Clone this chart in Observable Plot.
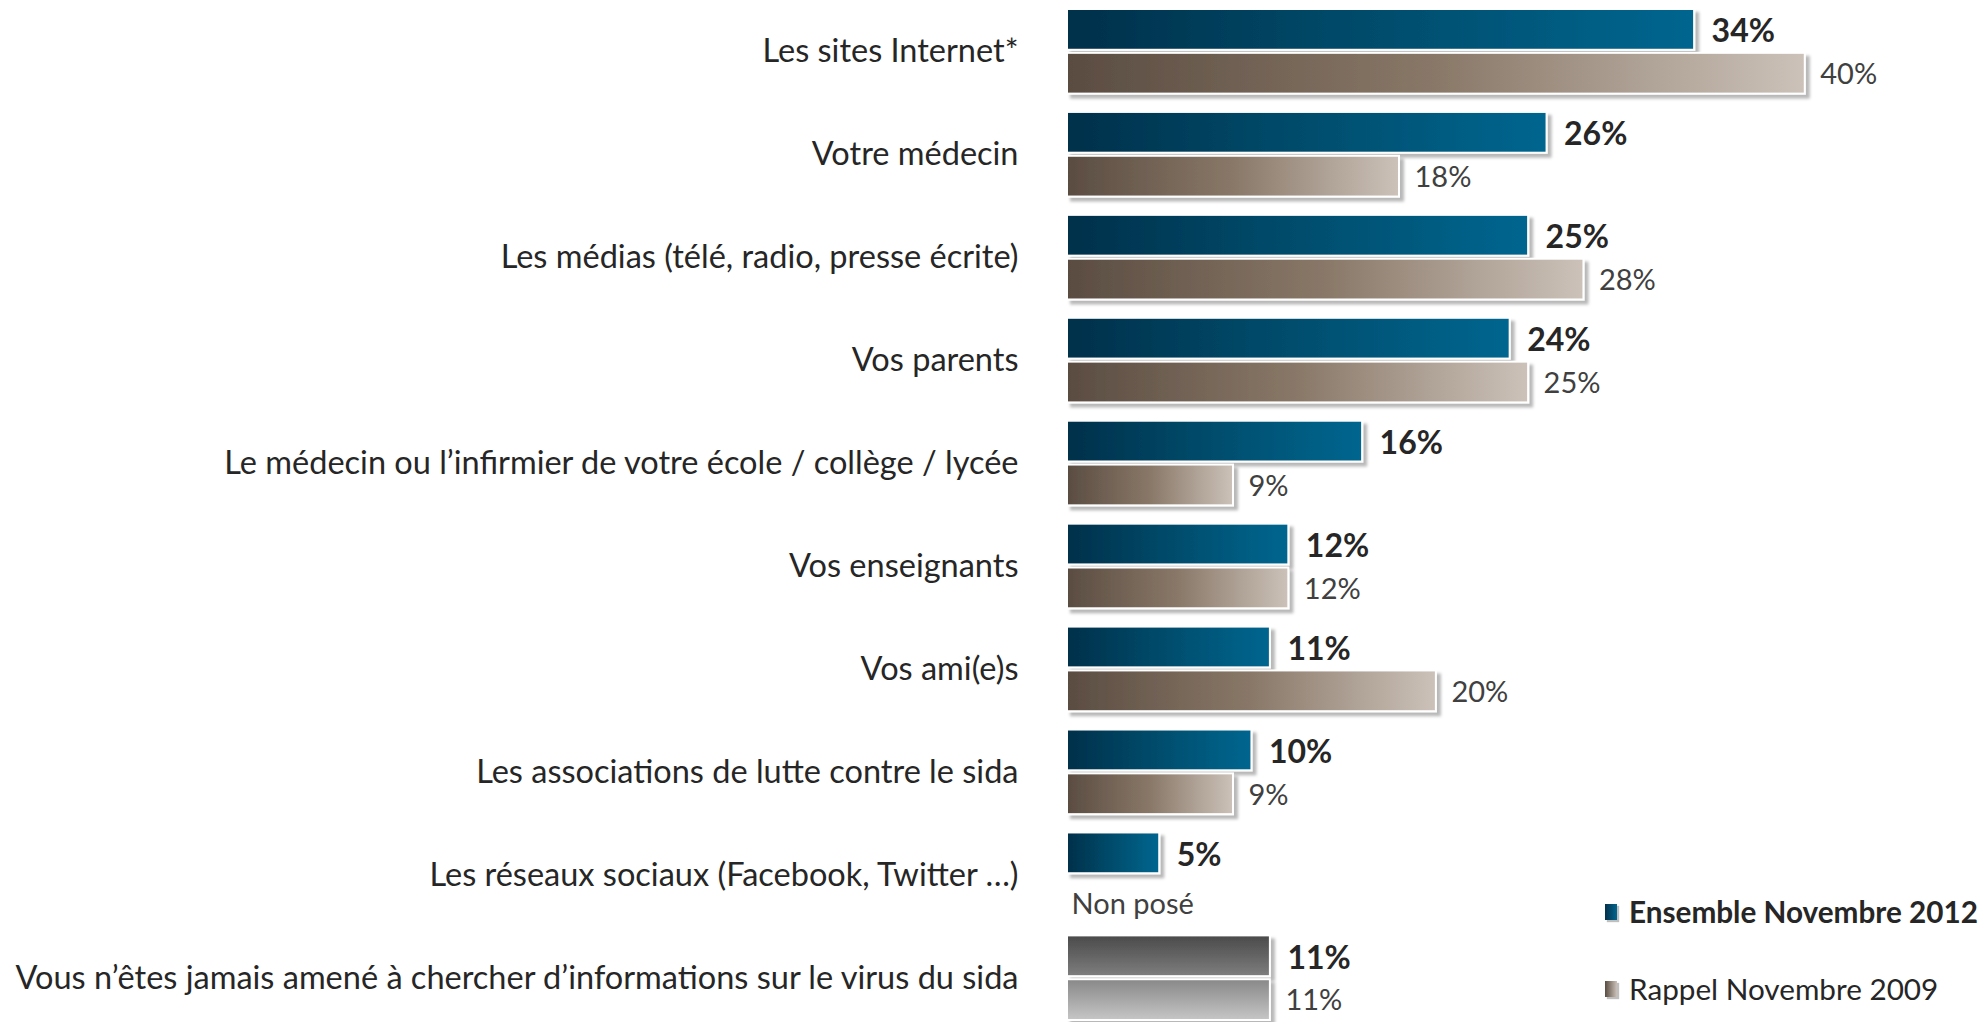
<!DOCTYPE html>
<html><head><meta charset="utf-8">
<script src="https://cdn.jsdelivr.net/npm/d3@7"></script>
<script src="https://cdn.jsdelivr.net/npm/@observablehq/plot@0.6"></script>
<style>
html,body{margin:0;padding:0;background:#fff;}
#wrap{position:relative;width:1980px;height:1022px;overflow:hidden;}
.legend{position:absolute;left:1605px;height:36px;line-height:36px;font-family:Lato,sans-serif;color:#262626;font-size:29.7px;display:flex;align-items:center;white-space:nowrap;}
.legend i{display:inline-block;width:12px;height:16px;margin-right:12px;box-shadow:2px 2px 1px rgba(0,0,0,0.25);}
</style></head><body><div id="wrap"></div>
<script>
const categories = [
  "Les sites Internet*",
  "Votre médecin",
  "Les médias (télé, radio, presse écrite)",
  "Vos parents",
  "Le médecin ou l’infirmier de votre école / collège / lycée",
  "Vos enseignants",
  "Vos ami(e)s",
  "Les associations de lutte contre le sida",
  "Les réseaux sociaux (Facebook, Twitter …)",
  "Vous n’êtes jamais amené à chercher d’informations sur le virus du sida"
];
const values2012 = [34, 26, 25, 24, 16, 12, 11, 10, 5, 11];
const values2009 = [40, 18, 28, 25, 9, 12, 20, 9, null, 11];
const seriesNames = ["Ensemble Novembre 2012", "Rappel Novembre 2009"];
const missingLabel = "Non posé";

const data = [];
categories.forEach((c, i) => {
  data.push({category: c, series: seriesNames[0], value: values2012[i]});
  data.push({category: c, series: seriesNames[1], value: values2009[i]});
});
const lastCat = categories[categories.length - 1];
const fillOf = d => d.category === lastCat
  ? (d.series === seriesNames[0] ? "url(#gGray1)" : "url(#gGray2)")
  : (d.series === seriesNames[0] ? "url(#gBlue)" : "url(#gBrown)");

const present = data.filter(d => d.value != null);
const missing = data.filter(d => d.value == null);

const chart = Plot.plot({
  width: 1980,
  height: 1022,
  marginLeft: 1067,
  marginRight: 83,
  marginTop: 9,
  marginBottom: 2,
  style: {fontFamily: "Lato, sans-serif", background: "white", color: "#262626"},
  x: {domain: [0, 45], axis: null},
  y: {domain: seriesNames, axis: null, paddingInner: 0.07, paddingOuter: 0, round: false},
  fy: {domain: categories, paddingInner: 0.178, paddingOuter: 0, round: false, axis: null},
  color: {type: "identity"},
  marks: [
    Plot.axisFy({anchor: "left", tickSize: 0, tickPadding: 49, fontSize: 32.5, label: null, fill: "#262626"}),
    Plot.barX(present, {x: "value", y: "series", fy: "category", fill: fillOf, stroke: "white", strokeWidth: 2}),
    Plot.text(present.filter(d => d.series === seriesNames[0]), {
      x: "value", y: "series", fy: "category", text: d => d.value + "%",
      dx: 17, dy: 2, textAnchor: "start", fontWeight: "bold", fontSize: 32, fill: "#262626"
    }),
    Plot.text(present.filter(d => d.series === seriesNames[1]), {
      x: "value", y: "series", fy: "category", text: d => d.value + "%",
      dx: 15, dy: 1, textAnchor: "start", fontSize: 29, fill: "#404040"
    }),
    Plot.text(missing, {
      x: 0, y: "series", fy: "category", text: () => missingLabel,
      dx: 4, dy: 8, textAnchor: "start", fontSize: 29, fill: "#404040"
    })
  ]
});

const svg = d3.select(chart);
svg.insert("defs", ":first-child").html(`
  <linearGradient id="gBlue" x1="0" x2="1" y1="0" y2="0">
    <stop offset="0" stop-color="#05304a"/>
    <stop offset="0.5" stop-color="#034d6d"/>
    <stop offset="1" stop-color="#00668f"/>
  </linearGradient>
  <linearGradient id="gBrown" x1="0" x2="1" y1="0" y2="0">
    <stop offset="0" stop-color="#5a4c41"/>
    <stop offset="0.5" stop-color="#897868"/>
    <stop offset="1" stop-color="#ccc2b9"/>
  </linearGradient>
  <linearGradient id="gGray1" x1="0" x2="0" y1="0" y2="1">
    <stop offset="0" stop-color="#4a4a4a"/>
    <stop offset="1" stop-color="#7e7e7e"/>
  </linearGradient>
  <linearGradient id="gGray2" x1="0" x2="0" y1="0" y2="1">
    <stop offset="0" stop-color="#888888"/>
    <stop offset="1" stop-color="#c6c6c6"/>
  </linearGradient>
  <filter id="shadow" x="-5%" y="-20%" width="115%" height="150%">
    <feDropShadow dx="4" dy="4" stdDeviation="1.5" flood-color="#000" flood-opacity="0.28"/>
  </filter>`);
svg.selectAll("g[aria-label='bar'] rect").attr("filter", "url(#shadow)");

const wrap = document.getElementById("wrap");
wrap.appendChild(chart);

const legendItems = [
  {name: seriesNames[0], bg: "linear-gradient(to right,#05304a,#00668f)", weight: "bold", top: 894},
  {name: seriesNames[1], bg: "linear-gradient(to right,#5a4c41,#ccc2b9)", weight: "normal", top: 971}
];
legendItems.forEach(it => {
  const div = document.createElement("div");
  div.className = "legend";
  div.style.top = it.top + "px";
  div.style.fontWeight = it.weight;
  const sw = document.createElement("i");
  sw.style.background = it.bg;
  div.appendChild(sw);
  div.appendChild(document.createTextNode(it.name));
  wrap.appendChild(div);
});
</script>
</body></html>
